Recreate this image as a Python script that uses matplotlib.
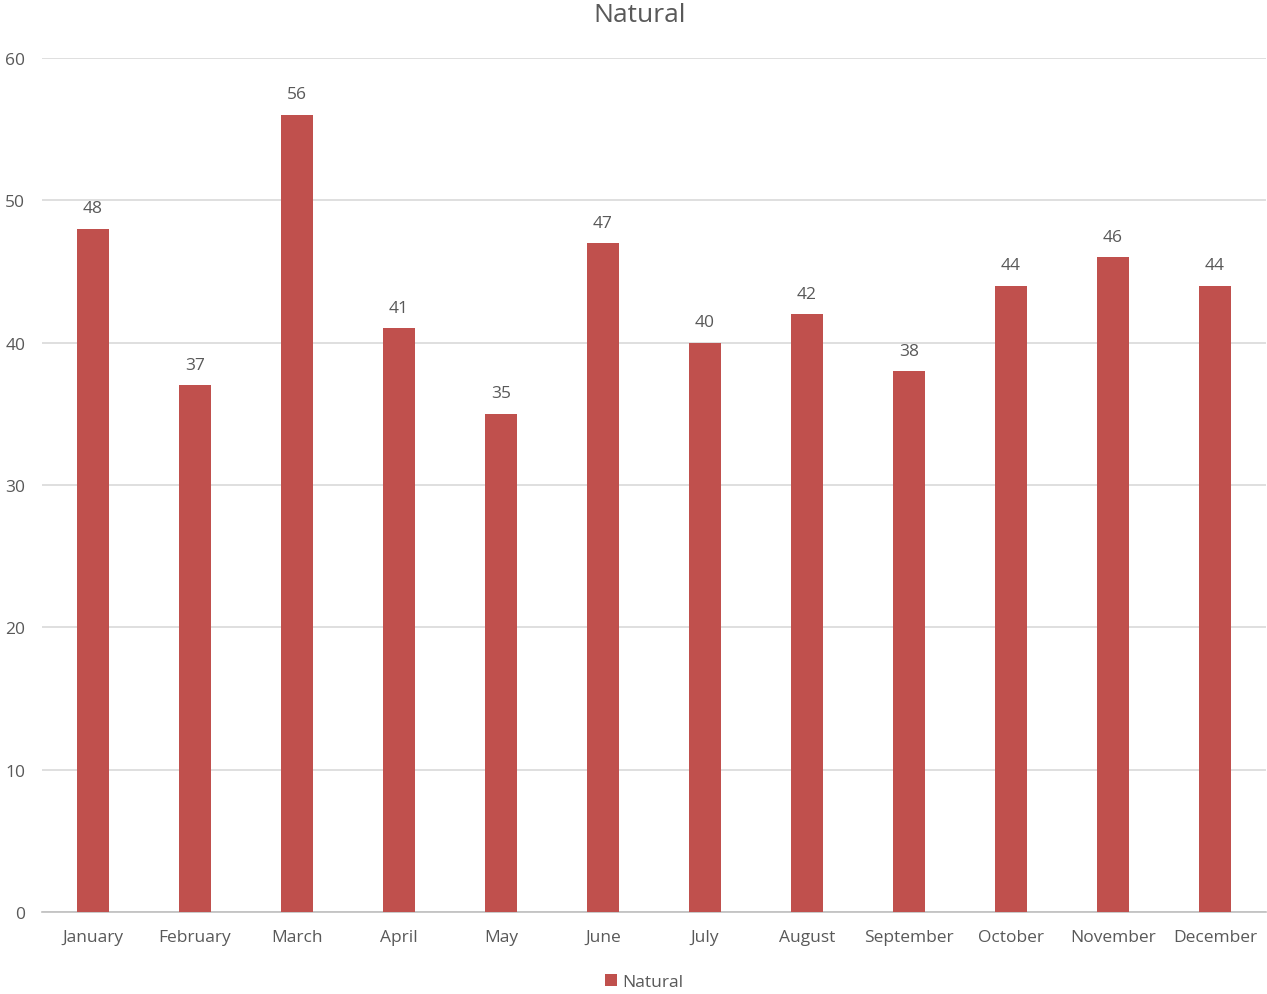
import matplotlib
matplotlib.use("Agg")
import matplotlib.pyplot as plt
import numpy as np

months = ["January", "February", "March", "April", "May", "June",
          "July", "August", "September", "October", "November", "December"]
natural = [48, 37, 56, 41, 35, 47, 40, 42, 38, 44, 46, 44]

bar_color = "#C0504D"
text_color = "#595959"
grid_color = "#D9D9D9"

plt.rcParams['font.family'] = ['Open Sans', 'DejaVu Sans']

fig = plt.figure(figsize=(12.67, 9.95), dpi=100)
ax = fig.add_axes([42 / 1267, 82 / 995, 1224 / 1267, 854 / 995])

x = np.arange(len(months))
bars = ax.bar(x, natural, width=0.31, color=bar_color, label="Natural", zorder=3)

for xi, v in zip(x, natural):
    ax.annotate(str(v), (xi, v), xytext=(0, 9), textcoords="offset points",
                ha="center", va="bottom", fontsize=12.5, color=text_color)

ax.set_xlim(-0.5, len(months) - 0.5)
ax.set_ylim(0, 60)
ax.set_yticks(np.arange(0, 61, 10))
ax.set_xticks(x)
ax.set_xticklabels(months)
ax.tick_params(axis="both", length=0, labelsize=12.5, labelcolor=text_color)
ax.tick_params(axis="y", pad=12)
ax.tick_params(axis="x", pad=12)
ax.yaxis.grid(True, color=grid_color, linewidth=1.2, zorder=0)

for side in ["top", "right", "left"]:
    ax.spines[side].set_visible(False)
ax.spines["bottom"].set_color("#BFBFBF")
ax.spines["bottom"].set_linewidth(1.2)

fig.text(640 / 1267, 1 - 15 / 995, "Natural", ha="center", va="center",
         fontsize=19, color=text_color)

fig.legend(handles=[bars], labels=["Natural"], loc="center",
           bbox_to_anchor=(644 / 1267, 1 - 983 / 995), frameon=False,
           fontsize=12.5, labelcolor=text_color, handlelength=0.7,
           handleheight=0.7, handletextpad=0.3)

fig.savefig("out.png", dpi=100)
